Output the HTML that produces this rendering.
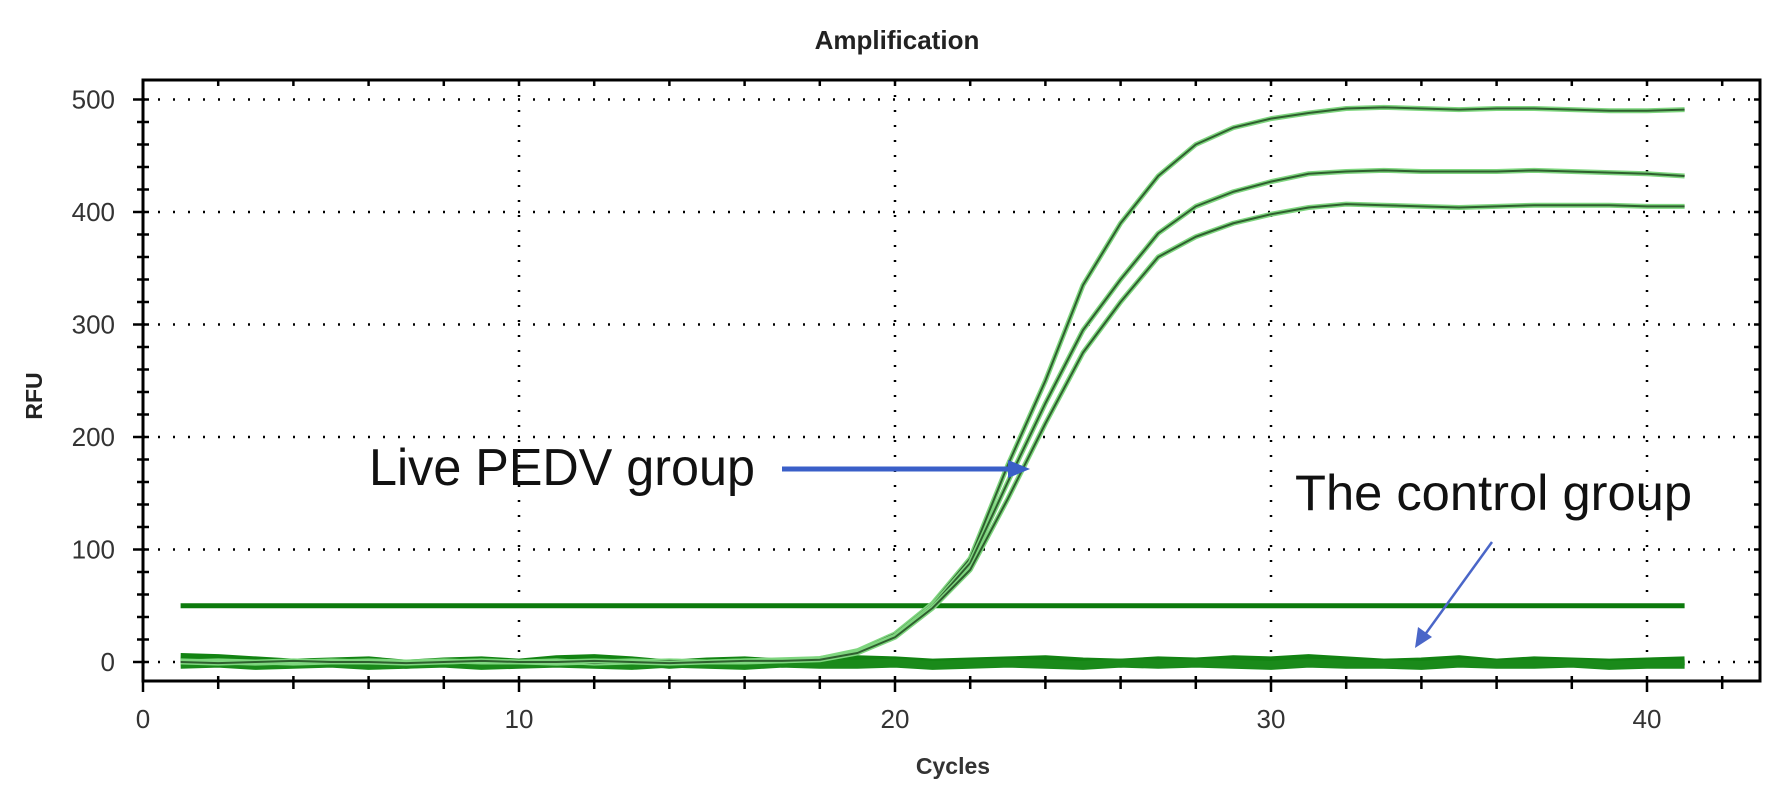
<!DOCTYPE html>
<html><head><meta charset="utf-8"><style>
html,body{margin:0;padding:0;background:#fff;}
svg{display:block;}
text{font-family:"Liberation Sans",sans-serif;}
</style></head><body>
<svg id="chart" width="1772" height="796" viewBox="0 0 1772 796" xmlns="http://www.w3.org/2000/svg">
<text x="897" y="49" text-anchor="middle" font-size="26" font-weight="bold" fill="#222">Amplification</text>
<text x="953" y="774" text-anchor="middle" font-size="23" font-weight="bold" fill="#333">Cycles</text>
<text x="0" y="0" transform="translate(42,396) rotate(-90)" text-anchor="middle" font-size="23" font-weight="bold" fill="#222">RFU</text>
<g id="grid"></g>
<g id="axes"></g>
<g id="series"></g>
<text x="369" y="485" font-size="52" fill="#111" textLength="386" lengthAdjust="spacingAndGlyphs">Live PEDV group</text>
<line x1="782" y1="469" x2="1012" y2="469" stroke="#3a5fc8" stroke-width="5"/>
<polygon points="1030,469 1008,460 1008,478" fill="#3a5fc8"/>
<text x="1295" y="510" font-size="50" fill="#111" textLength="397" lengthAdjust="spacingAndGlyphs">The control group</text>
<line x1="1492" y1="542" x2="1424" y2="636" stroke="#4a66c8" stroke-width="2.5"/>
<polygon points="1415,648 1418,627 1432,637" fill="#4a66c8"/>
</svg>
<script>
const cycles = [];
for (let c = 1; c <= 41; c++) cycles.push(c);
const sampleTop = [0,1,0,-1,0,1,0,0,1,0,-1,0,1,0,0,1,2,3,10,25,52,92,175,250,335,390,432,460,475,483,488,492,493,492,491,492,492,491,490,490,491];
const sampleMid = [1,0,-1,0,1,0,0,1,0,0,1,-1,0,1,0,0,1,3,9,23,50,88,160,230,295,340,381,405,418,427,434,436,437,436,436,436,437,436,435,434,432];
const sampleBot = [0,-1,0,1,0,0,-1,0,1,0,0,1,0,-1,0,1,1,2,8,22,48,82,145,212,275,320,360,378,390,398,404,407,406,405,404,405,406,406,406,405,405];
const control1 = [4,3,1,-1,0,1,-2,0,1,-1,2,3,1,-2,0,1,-1,0,2,1,-1,0,1,2,0,-1,1,0,2,1,3,1,-1,0,2,-1,1,0,-1,0,1];
const control2 = [-2,-1,-3,-2,-1,-3,-2,-1,-3,-2,-1,-2,-3,-1,-2,-3,-1,-2,-2,-1,-3,-2,-1,-2,-3,-1,-2,-1,-2,-3,-1,-2,-2,-3,-1,-2,-2,-1,-3,-2,-2];
const threshold = 50;
const xTicks = [0,10,20,30,40];
const yTicks = [0,100,200,300,400,500];

const NS = "http://www.w3.org/2000/svg";
const X0 = 143, XS = 37.6, Y0 = 662, YS = 1.125;
const L = 143, R = 1760, T = 80, B = 681;
const sx = v => X0 + v * XS;
const sy = v => Y0 - v * YS;
function mk(tag, attrs, parent) {
  const e = document.createElementNS(NS, tag);
  for (const k in attrs) e.setAttribute(k, attrs[k]);
  parent.appendChild(e);
  return e;
}
const grid = document.getElementById('grid');
const axes = document.getElementById('axes');
const series = document.getElementById('series');

xTicks.forEach(t => {
  if (t === 0) return;
  const g = mk('line', {x1: sx(t), x2: sx(t), y1: T, y2: B, stroke: '#000', 'stroke-width': 2.5, 'stroke-dasharray': '2 13'}, grid);
  
  
});
yTicks.forEach(t => {
  const g = mk('line', {x1: L, x2: R, y1: sy(t), y2: sy(t), stroke: '#000', 'stroke-width': 2.5, 'stroke-dasharray': '2 13'}, grid);
  
  
});

const frame = mk('rect', {x: L, y: T, width: R - L, height: B - T, fill: 'none', stroke: '#000', 'stroke-width': 3}, axes);



for (let c = 0; c <= 43; c += 2) {
  const major = c % 10 === 0;
  const tk = mk('line', {x1: sx(c), x2: sx(c), y1: B - 5, y2: B + (major ? 11 : 8), stroke: '#000', 'stroke-width': 2.5}, axes);
  
  
  const tt = mk('line', {x1: sx(c), x2: sx(c), y1: T, y2: T + 6, stroke: '#000', 'stroke-width': 2.5}, axes);
  
  
}
for (let v = 0; v <= 500; v += 20) {
  const major = v % 100 === 0;
  const tk = mk('line', {x1: L - (major ? 10 : 6), x2: L + 6, y1: sy(v), y2: sy(v), stroke: '#000', 'stroke-width': 2.5}, axes);
  
  
  const rt = mk('line', {x1: R - 6, x2: R, y1: sy(v), y2: sy(v), stroke: '#000', 'stroke-width': 2.5}, axes);
  
  
}
xTicks.forEach(t => {
  const lb = mk('text', {x: sx(t), y: 728, 'text-anchor': 'middle', 'font-size': 26, fill: '#333'}, axes);
  lb.textContent = t;
  
  
});
yTicks.forEach(t => {
  const lb = mk('text', {x: 115, y: sy(t) + 9, 'text-anchor': 'end', 'font-size': 26, fill: '#333'}, axes);
  lb.textContent = t;
  
  
});

function pts(arr) { return arr.map((v, i) => sx(cycles[i]) + ',' + sy(v)).join(' '); }

[control1, control2].forEach((arr, i) => {
  const p = mk('polyline', {points: pts(arr), fill: 'none', stroke: i ? '#1a8a1a' : '#128312', 'stroke-width': 9, 'stroke-linejoin': 'round'}, series);
  
  
});

const th = mk('line', {x1: sx(cycles[0]), x2: sx(cycles[cycles.length - 1]), y1: sy(threshold), y2: sy(threshold), stroke: '#0c7a0c', 'stroke-width': 5}, series);



[sampleTop, sampleMid, sampleBot].forEach((arr, i) => {
  const halo = mk('polyline', {points: pts(arr), fill: 'none', stroke: '#7fd67f', 'stroke-width': 5, 'stroke-linejoin': 'round'}, series);
  
  
  const ln = mk('polyline', {points: pts(arr), fill: 'none', stroke: '#2f5f2f', 'stroke-width': 2, 'stroke-linejoin': 'round'}, series);
  
  
});
</script>
</body></html>
